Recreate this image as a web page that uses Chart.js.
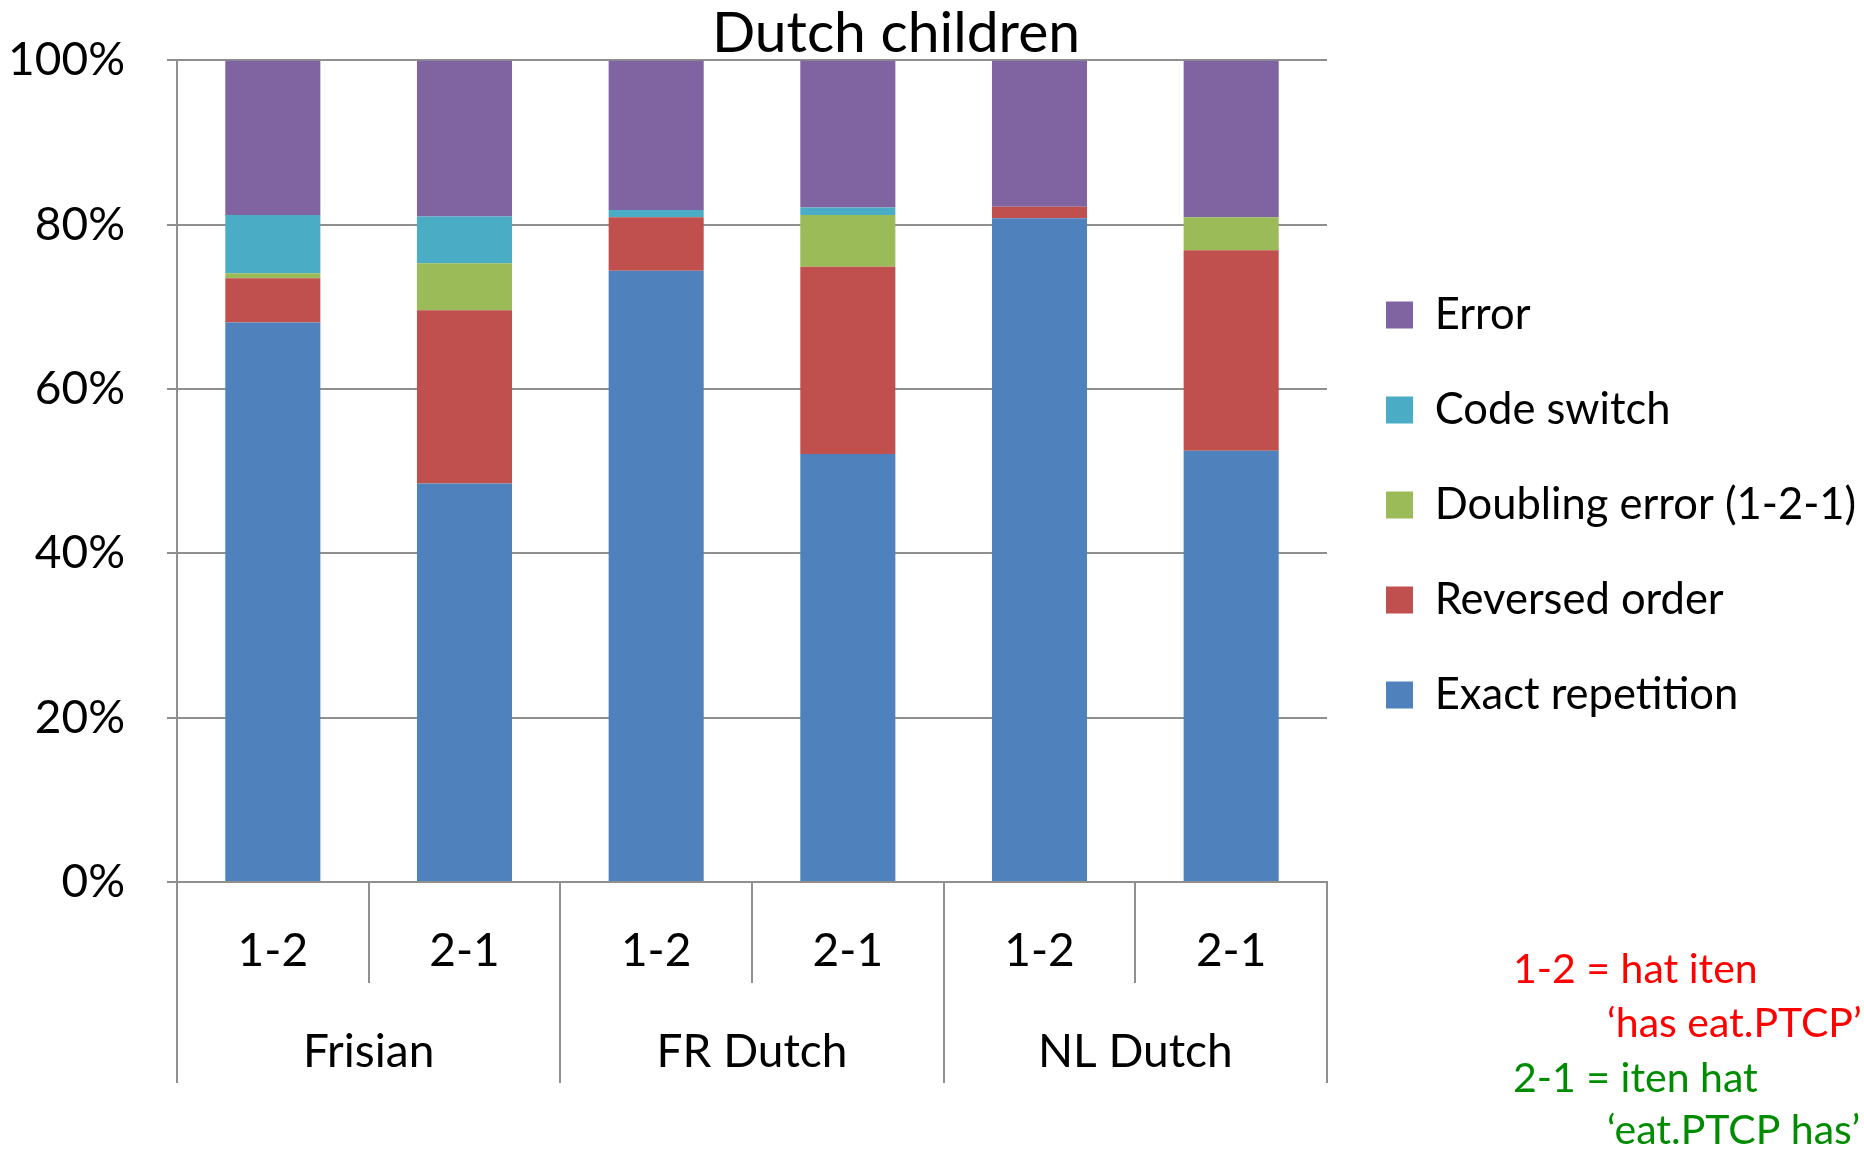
<!DOCTYPE html>
<html>
<head>
<meta charset="utf-8">
<script src="https://cdn.jsdelivr.net/npm/chart.js@4.4.1/dist/chart.umd.min.js"></script>
<style>
  html, body { margin: 0; padding: 0; background: #ffffff; }
  #wrap { width: 1864px; height: 1151px; position: relative; }
</style>
</head>
<body>
<div id="wrap"><canvas id="chart"></canvas></div>
<script>
// Word-order conditions (1-2 / 2-1) within each language group
const categories = ['1-2', '2-1', '1-2', '2-1', '1-2', '2-1'];
const groups = ['Frisian', 'FR Dutch', 'NL Dutch'];

// Response types, percentage of answers per condition
const exactRepetition = [68.1, 48.5, 74.4, 52.1, 80.8, 52.5];
const reversedOrder   = [5.4, 21.1, 6.5, 22.8, 1.4, 24.4];
const doublingError   = [0.6, 5.7, 0, 6.3, 0, 4.0];
const codeSwitch      = [7.1, 5.7, 0.9, 0.9, 0, 0];
const errorShare      = [18.8, 19.0, 18.2, 17.9, 17.8, 19.1];

const seriesNames = ['Exact repetition', 'Reversed order', 'Doubling error (1-2-1)', 'Code switch', 'Error'];
const yTickValues = [0, 20, 40, 60, 80, 100];

const titleText = 'Dutch children';
const glossLines = ['1-2 = hat iten', '\u2018has eat.PTCP\u2019', '2-1 = iten hat', '\u2018eat.PTCP has\u2019'];

const FONT = 'Lato, "Open Sans", "DejaVu Sans", sans-serif';
const GRID = '#8f8f8f';
const W = 1864;

// Frame: plot area runs from x = 177 to x = 1327, legend sits to its right
const PLOT_LEFT = 177;
const PLOT_RIGHT = 1327;
const LEGEND_SIZE = 43.5;
const LEGEND_PAD = 51.5;
const LEGEND_BOX = 27;
const LEGEND_RESERVE = 400;              // width the layout sets aside for the legend
const PAD_LEFT = -600;                   // y-axis box is widened to reach x = 177
const PAD_RIGHT = W - PLOT_RIGHT - LEGEND_RESERVE;

// Place the title over x 0..1792 and let the legend run to the canvas edge
const framePlugin = {
  id: 'frame',
  afterLayout(chart) {
    const t = chart.titleBlock;
    if (t) { t.left = 0; t.right = 1792; t.width = 1792; }
    const lg = chart.legend;
    if (lg) { lg.left = PLOT_RIGHT + 7.5; lg.right = W; lg.width = lg.right - lg.left; }
  }
};

// Gloss of the two word orders, written in the lower right corner
const glossPlugin = {
  id: 'gloss',
  afterDraw(chart) {
    const ctx = chart.ctx;
    ctx.save();
    ctx.font = '41px ' + FONT;
    ctx.textBaseline = 'alphabetic';
    ctx.textAlign = 'left';
    const spots = [
      { x: 1513, y: 983, color: '#ff0000' },
      { x: 1607, y: 1037, color: '#ff0000' },
      { x: 1513, y: 1092, color: '#008c00' },
      { x: 1607, y: 1144, color: '#008c00' }
    ];
    glossLines.forEach((t, i) => {
      ctx.fillStyle = spots[i].color;
      ctx.fillText(t, spots[i].x, spots[i].y);
    });
    ctx.restore();
  }
};

const colors = ['#4f81bd', '#c0504d', '#9bbb59', '#4bacc6', '#8064a2'];
const values = [exactRepetition, reversedOrder, doublingError, codeSwitch, errorShare];

new Chart(document.getElementById('chart'), {
  type: 'bar',
  data: {
    labels: categories,
    datasets: seriesNames.map((name, i) => ({
      label: name,
      data: values[i],
      backgroundColor: colors[i],
      borderWidth: 0,
      categoryPercentage: 1,
      barPercentage: 0.496
    }))
  },
  options: {
    responsive: true,
    maintainAspectRatio: false,
    animation: false,
    devicePixelRatio: 1,
    layout: { padding: { left: PAD_LEFT, right: PAD_RIGHT, top: 0, bottom: 68 } },
    plugins: {
      title: {
        display: true,
        text: titleText,
        color: '#000',
        font: { family: FONT, size: 57, weight: 'normal', lineHeight: 0.85 },
        padding: { top: 9, bottom: 3 }
      },
      legend: {
        position: 'right',
        align: 'start',
        reverse: true,
        maxWidth: LEGEND_RESERVE,
        title: {
          display: true,
          text: ' ',
          font: { size: 1, lineHeight: 1 },
          padding: { top: 0, bottom: 240.75 }
        },
        labels: {
          color: '#000',
          font: { family: FONT, size: LEGEND_SIZE },
          boxWidth: LEGEND_BOX,
          boxHeight: LEGEND_BOX,
          padding: LEGEND_PAD
        }
      },
      tooltip: { enabled: false }
    },
    scales: {
      x: {
        stacked: true,
        offset: true,
        grid: { offset: true, drawOnChartArea: false, tickLength: 101, color: GRID, lineWidth: 2 },
        border: { color: GRID, width: 2 },
        ticks: { color: '#000', font: { family: FONT, size: 46 }, padding: -59, maxRotation: 0 },
        afterFit(s) { s.height = 101; }
      },
      groups: {
        type: 'category',
        labels: groups,
        position: 'bottom',
        offset: true,
        grid: { offset: true, drawOnChartArea: false, tickLength: 100, color: GRID, lineWidth: 2 },
        border: { display: false },
        ticks: { color: '#000', font: { family: FONT, size: 46 }, padding: -58, maxRotation: 0 },
        afterFit(s) { s.height = 100; }
      },
      y: {
        stacked: true,
        min: 0,
        max: 100,
        afterBuildTicks(s) { s.ticks = yTickValues.map(v => ({ value: v })); },
        grid: { color: GRID, lineWidth: 2, tickLength: 10 },
        border: { color: GRID, width: 2 },
        ticks: { color: '#000', font: { family: FONT, size: 46, lineHeight: 0.8 }, padding: 42, callback: v => v + '%' },
        afterFit(s) { s.width = PLOT_LEFT - PAD_LEFT; }
      }
    }
  },
  plugins: [framePlugin, glossPlugin]
});
</script>
</body>
</html>
